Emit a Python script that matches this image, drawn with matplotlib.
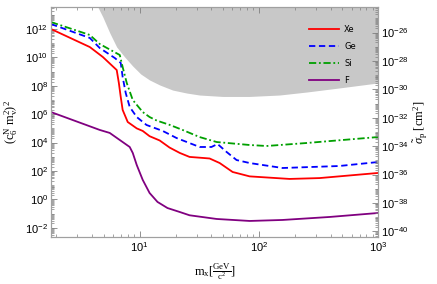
import numpy as np
import matplotlib
matplotlib.use("Agg")
import matplotlib.pyplot as plt
from matplotlib.ticker import FixedLocator, LogLocator, FuncFormatter, NullFormatter

plt.rcParams['mathtext.fontset'] = 'custom'
plt.rcParams['mathtext.rm'] = 'Liberation Serif'
plt.rcParams['mathtext.it'] = 'Liberation Serif:italic'
plt.rcParams['mathtext.sf'] = 'Liberation Sans'

# data (mass in GeV/c^2, log10 of (c6 mv^2)^2)
xe_m = [1.8, 3.81, 4.9, 6.41, 6.68, 6.93, 7.19, 7.93, 9.44, 10.6, 12.1, 14.7, 17.8, 21.7, 26.2, 33.7, 38.6,
        46.9, 60.2, 83.7, 181, 323, 1000]
xe_y = [12.0, 10.73, 10.03, 9.11, 8.20, 7.21, 6.30, 5.45, 5.0, 4.82, 4.45, 4.15, 3.65, 3.27, 2.99, 2.92, 2.88,
        2.56, 1.93, 1.62, 1.44, 1.50, 1.86]

ge_m = [1.8, 3.81, 4.62, 6.17, 6.93, 7.19, 7.63, 8.24, 9.44, 11.4, 15.6, 20.4, 31.8, 40.0, 45.0, 53.6, 65.0,
        83.7, 158, 472, 1000]
ge_y = [12.35, 11.37, 10.66, 9.96, 9.61, 8.62, 7.49, 6.51, 5.80, 5.24, 4.82, 4.32, 3.69, 3.69, 3.90, 3.34, 2.77,
        2.56, 2.21, 2.35, 2.63]

si_m = [1.8, 3.81, 4.62, 6.80, 7.19, 7.78, 8.74, 10.6, 12.1, 13.9, 17.8, 22.9, 31.8, 44.2, 83.7, 116, 251, 1000]
si_y = [12.49, 11.58, 10.94, 10.17, 9.32, 8.20, 7.00, 6.15, 5.80, 5.55, 5.25, 4.89, 4.39, 4.04, 3.83, 3.76, 3.97, 4.39]

f_m = [1.8, 4.62, 5.6, 8.24, 8.74, 9.44, 10.6, 12.1, 14.1, 17.1, 21.7, 26.2, 44.2, 83.7, 158, 391, 1000]
f_y = [6.15, 4.89, 4.68, 3.69, 3.27, 2.42, 1.37, 0.45, -0.18, -0.61, -0.89, -1.12, -1.38, -1.52, -1.45, -1.24, -0.96]

# excluded region (lower edge)
ex_m = [4.45, 4.90, 5.61, 6.41, 7.48, 8.74, 10.2, 12.1, 14.7, 18.9, 24.8, 31.8, 49.7, 83.6, 149, 251, 475, 1000]
ex_y = [13.55, 12.85, 11.72, 10.73, 10.03, 9.39, 8.83, 8.41, 8.06, 7.70, 7.49, 7.35, 7.25, 7.25, 7.35, 7.56,
        7.85, 8.20]

ylo, yhi = -2.65, 13.55
offset = -37.75

fig = plt.figure(figsize=(4.37, 2.84), dpi=100)
ax = fig.add_axes([51/437, 1-237/284, 327/437, 230/284])

ax.fill_between(ex_m, 10.0**np.array(ex_y), 10.0**(yhi+1), color='#c8c8c8', lw=0, zorder=0)

lw = 1.3
ax.plot(xe_m, 10.0**np.array(xe_y), color='#ff0000', lw=lw, label='Xe')
ax.plot(ge_m, 10.0**np.array(ge_y), color='#0000ff', lw=lw, ls=(0, (3.5, 2)), label='Ge')
ax.plot(si_m, 10.0**np.array(si_y), color='#00a000', lw=lw, ls=(0, (4, 1.5, 1, 1.5)), label='Si')
ax.plot(f_m, 10.0**np.array(f_y), color='#800080', lw=lw, label='F')

ax.set_xscale('log')
ax.set_yscale('log')
ax.set_xlim(1.8, 1000)
ax.set_ylim(10.0**ylo, 10.0**yhi)

fmt = FuncFormatter(lambda v, p: r'$\mathsf{10^{%d}}$' % round(np.log10(v)))
ax.xaxis.set_major_locator(FixedLocator([10, 100, 1000]))
ax.xaxis.set_minor_locator(LogLocator(base=10, subs=np.arange(2, 10), numticks=50))
ax.xaxis.set_major_formatter(fmt)
ax.xaxis.set_minor_formatter(NullFormatter())
ax.yaxis.set_major_locator(FixedLocator(10.0**np.arange(-2, 13, 2)))
ax.yaxis.set_minor_locator(LogLocator(base=10, subs=np.arange(1, 10), numticks=100))
ax.yaxis.set_major_formatter(fmt)
ax.yaxis.set_minor_formatter(NullFormatter())

ax2 = ax.twinx()
ax2.set_yscale('log')
ax2.set_ylim(10.0**(ylo+offset), 10.0**(yhi+offset))
ax2.yaxis.set_major_locator(FixedLocator(10.0**np.arange(-40, -25, 2)))
ax2.yaxis.set_minor_locator(LogLocator(base=10, subs=np.arange(1, 10), numticks=100))
ax2.yaxis.set_major_formatter(fmt)
ax2.yaxis.set_minor_formatter(NullFormatter())

for a in (ax, ax2):
    for s in a.spines.values():
        s.set_color('#a0a0a0')
        s.set_linewidth(0.8)
    a.tick_params(which='major', direction='in', length=4, width=0.6, color='#808080', labelsize=8, pad=2)
    a.tick_params(which='minor', direction='in', length=2, width=0.5, color='#808080')
ax.tick_params(which='both', top=True, right=False)
ax2.tick_params(which='both', left=False, right=True)

ax.set_xlabel(r'$\mathrm{m_x[\frac{GeV}{c^2}]}$', fontsize=9, labelpad=6)
ax.set_ylabel(r'$\mathrm{(c_6^N\ m_v^2)^2}$', fontsize=9, labelpad=4)
ax2.set_ylabel(r'$\tilde{\sigma}_\mathrm{p}\ \mathrm{[cm^2]}$', fontsize=9, labelpad=3)

ax.legend(loc='upper right', bbox_to_anchor=(0.955, 0.955), frameon=False, fontsize=6,
          handlelength=3.6, handletextpad=0.6, labelspacing=0.95)

fig.savefig('out.png', dpi=100)
